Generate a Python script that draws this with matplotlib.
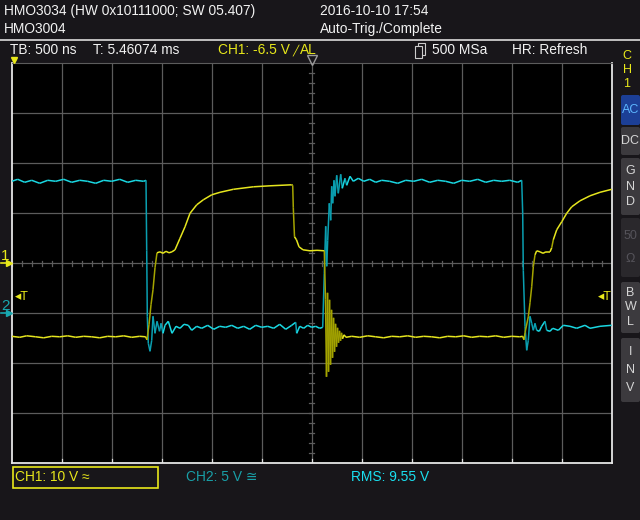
import numpy as np
import matplotlib.pyplot as plt
from matplotlib.collections import LineCollection
from matplotlib.patches import Rectangle, FancyBboxPatch

plt.rcParams['font.family'] = ['Liberation Sans', 'DejaVu Sans']

W, H = 640, 520

# Bildschirm: 12 x 8 Divisionen, TB 500 ns/div
time_per_div = 0.5     # µs
ch1_scale = 10.0       # V/div
ch2_scale = 5.0        # V/div
ch2_offset = -1.0      # div (Masse-Marker "2")

# CH1 (gelb): Zeit in µs relativ zum Trigger, Spannung in V
ch1_points = np.array([
    [-3.00, -14.6], [-2.92, -14.8], [-2.85, -14.5], [-2.76, -14.7], [-2.68, -14.9],
    [-2.60, -14.6], [-2.52, -14.7], [-2.44, -14.5], [-2.36, -14.8], [-2.28, -14.6],
    [-2.20, -14.7], [-2.12, -14.9], [-2.04, -14.6], [-1.96, -14.7], [-1.88, -14.5],
    [-1.80, -14.8], [-1.72, -14.6], [-1.66, -14.7],
    [-1.647, -15.3], [-1.627, -12.3], [-1.607, -8.3], [-1.587, -5.3], [-1.567, -0.9], [-1.547, 2.1],
    [-1.517, 2.3], [-1.487, 2.0], [-1.457, 2.4], [-1.427, 2.1], [-1.397, 2.3], [-1.367, 2.7],
    [-1.317, 5.0], [-1.267, 7.3], [-1.217, 10.0], [-1.150, 11.7], [-1.084, 12.7], [-1.000, 13.7],
    [-0.917, 14.2], [-0.784, 14.8], [-0.584, 15.3], [-0.417, 15.5], [-0.200, 15.7],
    [-0.190, 15.6], [-0.184, 11.1], [-0.172, 5.3], [-0.152, 4.7], [-0.127, 3.3], [-0.087, 2.7],
    [-0.017, 2.5], [0.053, 2.6], [0.126, 2.5],
    [0.138, -7.3], [0.148, -22.7], [0.158, -5.9], [0.168, -21.7], [0.178, -7.3], [0.188, -20.3],
    [0.198, -9.3], [0.208, -18.9], [0.218, -10.9], [0.228, -17.7], [0.238, -12.1], [0.248, -16.7],
    [0.258, -12.9], [0.268, -15.9], [0.278, -13.5], [0.288, -15.5], [0.298, -13.9], [0.308, -15.1],
    [0.323, -14.3], [0.343, -14.8],
    [0.40, -14.6], [0.48, -14.8], [0.56, -14.5], [0.64, -14.7], [0.72, -14.9], [0.80, -14.6],
    [0.88, -14.7], [0.96, -14.5], [1.04, -14.8], [1.12, -14.6], [1.20, -14.7], [1.28, -14.9],
    [1.36, -14.6], [1.44, -14.7], [1.52, -14.5], [1.60, -14.8], [1.68, -14.6], [1.76, -14.7],
    [1.84, -14.5], [1.92, -14.8], [2.00, -14.6], [2.08, -14.7], [2.11, -14.6],
    [2.123, -15.3], [2.133, -13.9], [2.166, -10.7], [2.183, -7.9], [2.200, -4.7], [2.216, -0.7],
    [2.233, 1.7], [2.250, 2.5], [2.283, 2.3], [2.313, 2.0], [2.343, 2.3], [2.383, 2.3],
    [2.400, 3.1], [2.416, 4.7], [2.450, 6.7], [2.500, 8.3], [2.550, 10.0], [2.600, 11.3],
    [2.683, 12.5], [2.783, 13.5], [2.883, 14.2], [3.000, 14.8],
])

# CH2 (cyan)
ch2_points = np.array([
    [-3.00, 13.2], [-2.94, 13.4], [-2.87, 13.1], [-2.80, 13.3], [-2.72, 13.0], [-2.64, 13.3],
    [-2.56, 13.2], [-2.48, 13.4], [-2.40, 13.1], [-2.32, 13.3], [-2.24, 13.2], [-2.16, 13.0],
    [-2.08, 13.3], [-2.00, 13.2], [-1.92, 13.4], [-1.84, 13.1], [-1.76, 13.3], [-1.68, 13.2],
    [-1.657, 13.3],
    [-1.650, 6.3], [-1.644, -0.3], [-1.634, -3.0], [-1.617, -3.8], [-1.600, -2.7], [-1.587, -0.3],
    [-1.567, -2.0], [-1.547, -0.8], [-1.522, -1.8], [-1.507, -1.0], [-1.487, -2.0], [-1.467, -1.2],
    [-1.434, -0.8], [-1.397, -2.0], [-1.357, -1.3], [-1.317, -1.5], [-1.277, -1.1], [-1.234, -1.2],
    [-1.200, -1.7], [-1.15, -1.3], [-1.10, -1.5], [-1.04, -1.2], [-0.98, -1.6], [-0.92, -1.3],
    [-0.86, -1.4], [-0.80, -1.2], [-0.74, -1.5], [-0.68, -1.3], [-0.62, -1.6], [-0.56, -1.2],
    [-0.50, -1.4], [-0.44, -1.3], [-0.38, -1.5], [-0.32, -1.1], [-0.26, -1.6], [-0.20, -1.2],
    [-0.16, -0.9], [-0.15, -2.0], [-0.12, -1.3], [-0.08, -1.5], [-0.04, -1.2], [0.00, -1.4],
    [0.04, -1.3], [0.08, -1.5], [0.11, -1.4],
    [0.126, 4.0], [0.140, 8.7], [0.150, 4.7], [0.160, 7.3], [0.176, 11.0], [0.190, 9.3],
    [0.200, 12.7], [0.210, 11.0], [0.223, 13.3], [0.233, 11.7], [0.250, 13.8], [0.266, 12.0],
    [0.290, 13.9], [0.306, 12.5], [0.333, 13.5], [0.350, 12.8], [0.383, 13.7], [0.416, 13.2],
    [0.466, 13.5],
    [0.52, 13.2], [0.58, 13.4], [0.64, 13.1], [0.70, 13.3], [0.78, 13.2], [0.86, 13.0],
    [0.94, 13.3], [1.02, 13.2], [1.10, 13.4], [1.18, 13.1], [1.26, 13.3], [1.34, 13.2],
    [1.42, 13.0], [1.50, 13.3], [1.58, 13.2], [1.66, 13.4], [1.74, 13.1], [1.82, 13.3],
    [1.90, 13.2], [1.98, 13.3], [2.06, 13.1], [2.10, 13.3],
    [2.110, 10.0], [2.116, 4.3], [2.133, -1.3], [2.150, -3.7], [2.166, -2.7], [2.183, -0.3],
    [2.200, -1.0], [2.216, -1.7], [2.233, -1.0], [2.250, -1.7], [2.276, -1.8], [2.300, -1.3],
    [2.333, -0.8], [2.350, -1.7], [2.383, -1.8], [2.410, -1.5], [2.466, -1.7], [2.516, -1.2],
    [2.583, -1.3], [2.650, -1.5], [2.733, -1.2], [2.783, -1.5], [2.883, -1.3], [3.000, -1.2],
])

# Bildschirmbereich in Pixeln
x0, x1, y0, y1 = 11.7, 611.7, 63.3, 463.3
px_per_us = (x1 - x0) / (12 * time_per_div)
px_per_div = (y1 - y0) / 8

fig = plt.figure(figsize=(W / 100, H / 100), dpi=100, facecolor='#18161a')
ax = fig.add_axes([x0 / W, 1 - y1 / H, (x1 - x0) / W, (y1 - y0) / H], facecolor='black')
ax.set_xlim(-6 * time_per_div, 6 * time_per_div)
ax.set_ylim(-4, 4)
ax.set_xticks([])
ax.set_yticks([])

grid_col = '#5c5c5c'
for i in range(-5, 6):
    ax.axvline(i * time_per_div, color=grid_col, lw=0.9, zorder=1)
for j in range(-3, 4):
    ax.axhline(j, color=grid_col, lw=0.9, zorder=1)

# kleine Teilstriche auf den Mittellinien
for xt in np.arange(-3, 3.001, time_per_div / 5):
    ax.plot([xt, xt], [-0.05, 0.05], color=grid_col, lw=0.9, zorder=1)
for yt in np.arange(-4, 4.001, 0.2):
    ax.plot([-0.025, 0.025], [yt, yt], color=grid_col, lw=0.9, zorder=1)
for i in range(-5, 6):
    ax.plot([i * time_per_div] * 2, [-4, -3.92], color='#dddddd', lw=0.9, zorder=1)

for s in ['left', 'right', 'bottom']:
    ax.spines[s].set_color('#e6e6e6')
    ax.spines[s].set_linewidth(1.3)
ax.spines['top'].set_color(grid_col)


def draw_trace(points, scale, offset, bright, dark):
    t = points[:, 0]
    y = points[:, 1] / scale + offset
    pts = np.column_stack([t, y])
    segs = np.stack([pts[:-1], pts[1:]], axis=1)
    dx = np.abs(np.diff(t)) * px_per_us
    dy = np.abs(np.diff(y)) * px_per_div
    steep = (dy > 4 * dx) & (dy > 5)
    cols = [dark if s else bright for s in steep]
    ax.add_collection(LineCollection(segs, colors=cols, linewidths=1.1, zorder=3))


draw_trace(ch2_points, ch2_scale, ch2_offset, '#1ad8e2', '#0a9fb0')
draw_trace(ch1_points, ch1_scale, 0.0, '#e6e61e', '#a4a400')

# Overlay in Pixelkoordinaten
ov = fig.add_axes([0, 0, 1, 1])
ov.set_xlim(0, W)
ov.set_ylim(H, 0)
ov.axis('off')
ov.set_zorder(5)

white = '#f2f2f2'
yellow = '#e8e81a'
fs = 9.9

ov.text(4, 11, 'HMO3034 (HW 0x10111000; SW 05.407)', color=white, fontsize=fs, va='center')
ov.text(4, 29, 'HMO3004', color=white, fontsize=fs, va='center')
ov.text(320, 11, '2016-10-10 17:54', color=white, fontsize=fs, va='center')
ov.text(320, 29, 'Auto-Trig./Complete', color=white, fontsize=fs, va='center')
ov.plot([0, W], [39.5, 39.5], color='#dcdcdc', lw=1.2)

ov.text(10, 50, 'TB: 500 ns', color=white, fontsize=fs, va='center')
ov.text(93, 50, 'T: 5.46074 ms', color=white, fontsize=fs, va='center')
ov.text(218, 50, 'CH1: -6.5 V', color=yellow, fontsize=fs, va='center')
ov.text(292, 50.5, '\u2571', color=yellow, fontsize=7.5, va='center')
ov.text(300, 50, 'AL', color=yellow, fontsize=fs, va='center')
ov.add_patch(Rectangle((418, 43), 7, 12, fill=False, ec='#cccccc', lw=0.8))
ov.add_patch(Rectangle((415, 46), 7, 12, fc='#18161a', ec='#cccccc', lw=0.8))
ov.text(432, 50, '500 MSa', color=white, fontsize=fs, va='center')
ov.text(512, 50, 'HR: Refresh', color=white, fontsize=fs, va='center')

# Trigger-Marker
ov.plot([311.7], [60], marker='v', ms=7, mfc='none', mec='#9a9a9a', mew=1)
ov.plot([14], [60], marker='v', ms=4, color=yellow)
ov.text(5, 256, '1', color=yellow, fontsize=11, ha='center', va='center')
ov.plot([9], [262.5], marker='>', ms=5, color=yellow)
ov.plot([1, 9], [262.5, 262.5], color=yellow, lw=1.2)
ov.text(5, 306, '2', color='#18a8b0', fontsize=11, ha='center', va='center')
ov.plot([9], [313], marker='>', ms=5, color='#18a8b0')
ov.plot([1, 9], [313, 313], color='#18a8b0', lw=1.2)
ov.text(15, 297, '\u25c2T', color=yellow, fontsize=9, va='center')
ov.text(598, 297, '\u25c2T', color=yellow, fontsize=9, va='center')

# rechte Seitenleiste
for k, ch in enumerate('CH1'):
    ov.text(627, 56 + 14 * k, ch, color=yellow, fontsize=9, ha='center', va='center')

buttons = [
    (95, 125, ['AC'], '#1c3f96', '#5cb6ff', None),
    (127, 155, ['DC'], '#3c3a3e', '#d6d6d6', None),
    (158, 215, ['G', 'N', 'D'], '#3c3a3e', '#d6d6d6', None),
    (218, 277, ['50', '\u03a9'], '#2a282c', '#55535a', '....'),
    (282, 333, ['B', 'W', 'L'], '#3c3a3e', '#d6d6d6', None),
    (338, 402, ['I', 'N', 'V'], '#3c3a3e', '#d6d6d6', None),
]
for top, bot, labels, fc, tc, hatch in buttons:
    ov.add_patch(FancyBboxPatch((621, top), 19, bot - top,
                                boxstyle='round,pad=0,rounding_size=2',
                                fc=fc, ec='none', hatch=hatch))
    n = len(labels)
    step = (bot - top) / (n + 0.6)
    for k, lab in enumerate(labels):
        ov.text(630.5, top + step * (k + 0.8), lab, color=tc, fontsize=9,
                ha='center', va='center')

# untere Leiste
ov.add_patch(Rectangle((12.5, 466.5), 145, 21, fill=False, ec=yellow, lw=1.2))
ov.text(15, 477, 'CH1: 10 V \u2248', color=yellow, fontsize=fs, va='center')
ov.text(186, 477, 'CH2: 5 V \u2245', color='#18a0a8', fontsize=fs, va='center')
ov.text(351, 477, 'RMS: 9.55 V', color='#1ae0f0', fontsize=fs, va='center')

fig.savefig('out.png', dpi=100, facecolor=fig.get_facecolor())
